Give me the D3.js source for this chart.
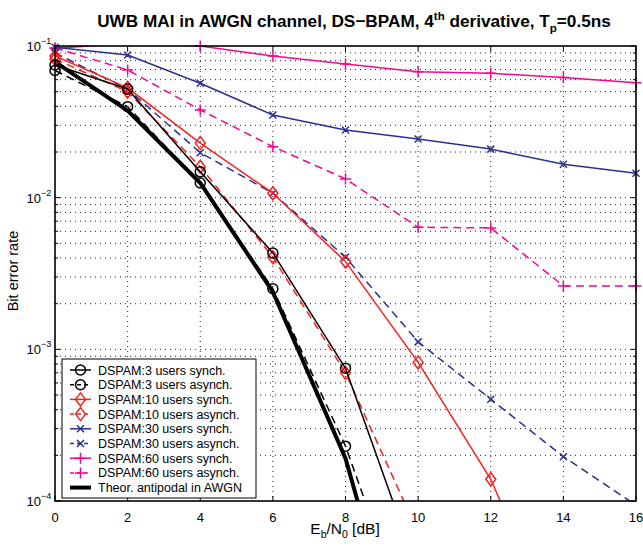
<!DOCTYPE html>
<html><head><meta charset="utf-8">
<script src="https://cdn.jsdelivr.net/npm/d3@7"></script>
<style>body{margin:0;background:#fff}svg{display:block}text{font-family:"Liberation Sans",Arial,sans-serif}</style>
</head><body><svg id="c" width="643" height="548"></svg>
<script>
const ebn0 = [0, 2, 4, 6, 8, 10, 12, 14, 16];
const xTicks = [0, 2, 4, 6, 8, 10, 12, 14, 16];
const yDecades = [-4, -3, -2, -1];
const ber3Sync   = [0.075, 0.052, 0.0148, 0.00432, 7.5e-4, 3.4e-5];
const ber3Async  = [0.069, 0.0398, 0.0125, 0.00251, 2.3e-4, 1.05e-5];
const ber10Sync  = [0.086, 0.053, 0.0229, 0.0107, 0.00379, 8.2e-4, 1.39e-4, 1.1e-5];
const ber10Async = [0.082, 0.050, 0.016, 0.00405, 7.0e-4, 6.2e-5];
const ber30Sync  = [0.098, 0.0872, 0.0568, 0.0351, 0.0279, 0.0244, 0.0209, 0.0166, 0.0145];
const ber30Async = [0.090, 0.052, 0.0198, 0.0107, 0.00405, 0.00112, 4.69e-4, 1.96e-4, 9.4e-5];
const ber60Sync  = [0.0965, 0.104, 0.1, 0.0859, 0.0761, 0.0677, 0.066, 0.0621, 0.0573];
const ber60Async = [0.097, 0.0695, 0.0379, 0.0217, 0.0133, 0.00638, 0.00632, 0.00262, 0.00262];
const berTheory  = [0.0786, 0.0375, 0.0125, 0.00239, 1.91e-4, 3.87e-6];
const legendLabels = ["DSPAM:3 users synch.","DSPAM:3 users asynch.","DSPAM:10 users synch.","DSPAM:10 users asynch.","DSPAM:30 users synch.","DSPAM:30 users asynch.","DSPAM:60 users synch.","DSPAM:60 users asynch.","Theor. antipodal in AWGN"];

const RED="#ff1c1c", BLUE="#2c2f8e", MAG="#f2088f";
const series = [
  {v:ber3Sync, c:"#000", dash:null, m:"o", w:1.5},
  {v:ber3Async, c:"#000", dash:"8,5", m:"o", w:1.5},
  {v:ber10Sync, c:RED, dash:null, m:"d", w:1.5},
  {v:ber10Async, c:RED, dash:"8,5", m:"d", w:1.5},
  {v:ber30Sync, c:BLUE, dash:null, m:"x", w:1.5},
  {v:ber30Async, c:BLUE, dash:"8,5", m:"x", w:1.5},
  {v:ber60Sync, c:MAG, dash:null, m:"+", w:1.5},
  {v:ber60Async, c:MAG, dash:"8,5", m:"+", w:1.5},
  {v:berTheory, c:"#000", dash:null, m:null, w:4}
];

const L=55, R=636, T=46, B=501;
const svg = d3.select("#c");
const x = d3.scaleLinear().domain([0,16]).range([L,R]);
const y = d3.scaleLog().domain([1e-4,1e-1]).range([B,T]);

// grid
const grid = svg.append("g").attr("stroke","#222").attr("stroke-width",1).attr("stroke-dasharray","1,4");
xTicks.slice(1,-1).forEach(t=>grid.append("line").attr("x1",x(t)).attr("x2",x(t)).attr("y1",T).attr("y2",B));
const yMinor=[];
yDecades.slice(0,3).forEach(d=>{for(let k=1;k<10;k++) yMinor.push(k*Math.pow(10,d));});
yMinor.forEach(v=>{ if(v>1e-4) grid.append("line").attr("x1",L).attr("x2",R).attr("y1",y(v)).attr("y2",y(v)); });

// ticks
const tk = svg.append("g").attr("stroke","#000").attr("stroke-width",1);
xTicks.forEach(t=>{
  tk.append("line").attr("x1",x(t)).attr("x2",x(t)).attr("y1",B).attr("y2",B-5);
  tk.append("line").attr("x1",x(t)).attr("x2",x(t)).attr("y1",T).attr("y2",T+5);
});
yMinor.concat([0.1]).forEach(v=>{
  const major = Math.abs(Math.log10(v)-Math.round(Math.log10(v)))<1e-9;
  const len = major?5:3;
  tk.append("line").attr("x1",L).attr("x2",L+len).attr("y1",y(v)).attr("y2",y(v));
  tk.append("line").attr("x1",R).attr("x2",R-len).attr("y1",y(v)).attr("y2",y(v));
});

// data
svg.append("clipPath").attr("id","clip").append("rect").attr("x",L).attr("y",T).attr("width",R-L).attr("height",B-T);
const line = d3.line().x((d,i)=>x(ebn0[i])).y(d=>y(d));
const dataG = svg.append("g");
function marker(g, type, cx, cy, c){
  const s = g.append("path").attr("fill","none").attr("stroke",c).attr("stroke-width",1.5);
  if(type==="o") s.attr("d",d3.symbol(d3.symbolCircle, Math.PI*25)()).attr("transform",`translate(${cx},${cy})`);
  else if(type==="d") s.attr("d",`M0,-6.5L5,0L0,6.5L-5,0Z`).attr("transform",`translate(${cx},${cy})`);
  else if(type==="x") s.attr("d",`M-3.5,-3.5L3.5,3.5M-3.5,3.5L3.5,-3.5`).attr("transform",`translate(${cx},${cy})`);
  else if(type==="+") s.attr("d",`M-5.5,0L5.5,0M0,-5.5L0,5.5`).attr("transform",`translate(${cx},${cy})`);
}
series.slice().reverse().forEach(s=>{
  dataG.append("path").attr("clip-path","url(#clip)").attr("d",line(s.v)).attr("fill","none")
    .attr("stroke",s.c).attr("stroke-width",s.w).attr("stroke-dasharray",s.dash).attr("stroke-linejoin","round");
  if(s.m) s.v.forEach((v,i)=>{ if(v>=0.99e-4 && v<=0.1001) marker(dataG,s.m,x(ebn0[i]),y(v),s.c); });
});

// box
svg.append("rect").attr("x",L).attr("y",T).attr("width",R-L).attr("height",B-T).attr("fill","none").attr("stroke","#000").attr("stroke-width",1.6);

// tick labels
xTicks.forEach(t=>svg.append("text").attr("x",x(t)).attr("y",B+21).attr("text-anchor","middle").attr("font-size",13).text(t));
yDecades.forEach(d=>{
  const t = svg.append("text").attr("x",L-14).attr("y",y(Math.pow(10,d))+5).attr("text-anchor","end").attr("font-size",13);
  t.text("10");
  svg.append("text").attr("x",L-14).attr("y",y(Math.pow(10,d))-2).attr("font-size",9).text("\u2212"+(-d));
});

// title
const title = svg.append("text").attr("x",354).attr("y",27).attr("text-anchor","middle").attr("font-size",17.2).attr("font-weight","bold");
title.append("tspan").text("UWB MAI in AWGN channel, DS\u2212BPAM, 4");
title.append("tspan").attr("dy",-7).attr("font-size",11.5).text("th");
title.append("tspan").attr("dy",7).text(" derivative, T");
title.append("tspan").attr("dy",5).attr("font-size",11.5).text("p");
title.append("tspan").attr("dy",-5).text("=0.5ns");

// axis labels
const xl = svg.append("text").attr("x",345).attr("y",534).attr("text-anchor","middle").attr("font-size",15.5);
xl.append("tspan").text("E");
xl.append("tspan").attr("dy",4).attr("font-size",10.5).text("b");
xl.append("tspan").attr("dy",-4).text("/N");
xl.append("tspan").attr("dy",4).attr("font-size",10.5).text("0");
xl.append("tspan").attr("dy",-4).text(" [dB]");
svg.append("text").attr("transform","translate(18,271) rotate(-90)").attr("text-anchor","middle").attr("font-size",14.5).text("Bit error rate");

// legend
const lg = svg.append("g");
lg.append("rect").attr("x",62).attr("y",359).attr("width",194).attr("height",139).attr("fill","#fff").attr("stroke","#000").attr("stroke-width",1);
series.forEach((s,i)=>{
  const cy = 370 + i*14.7;
  lg.append("line").attr("x1",70).attr("x2",91).attr("y1",cy).attr("y2",cy).attr("stroke",s.c).attr("stroke-width",s.w).attr("stroke-dasharray",s.dash?"4,3":null);
  if(s.m) marker(lg,s.m,80.5,cy,s.c);
  lg.append("text").attr("x",98).attr("y",cy+4.5).attr("font-size",12.5).text(legendLabels[i]);
});
</script></body></html>
